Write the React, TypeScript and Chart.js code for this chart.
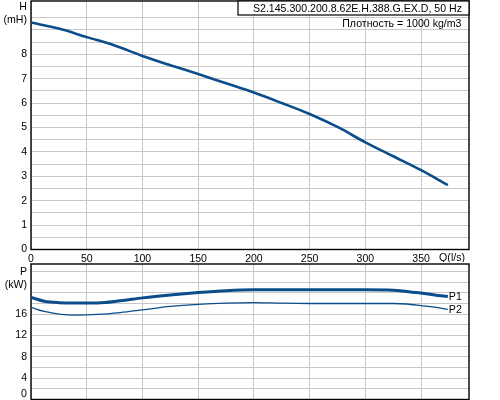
import React, { useEffect, useRef } from "react";
import { Chart, registerables } from "chart.js";

Chart.register(...registerables);

// ---- data ----
const flowQ = [0, 25, 50, 75, 100, 125, 150, 175, 200, 225, 250, 275, 300, 325, 350, 374];
const headH = [9.3, 9.05, 8.7, 8.36, 7.93, 7.55, 7.19, 6.81, 6.43, 6.0, 5.55, 5.02, 4.39, 3.82, 3.25, 2.64];

const powerQ = [0, 12, 25, 40, 60, 80, 100, 125, 150, 175, 200, 225, 250, 275, 300, 325, 337, 350, 362, 374];
const powerP1 = [19.15, 18.4, 18.15, 18.1, 18.1, 18.5, 19.05, 19.6, 20.05, 20.4, 20.55, 20.55, 20.55, 20.55, 20.55, 20.5, 20.25, 19.95, 19.6, 19.3];
const powerP2 = [17.26, 16.5, 16.0, 15.82, 15.95, 16.3, 16.8, 17.45, 17.85, 18.08, 18.15, 18.05, 18.0, 18.0, 18.0, 18.0, 17.9, 17.6, 17.3, 16.9];

const xTickValues = [0, 50, 100, 150, 200, 250, 300, 350];
const headGridValues = [0, 0.5, 1, 1.5, 2, 2.5, 3, 3.5, 4, 4.5, 5, 5.5, 6, 6.5, 7, 7.5, 8, 8.5, 9, 9.5];
const headLabelValues = [0, 1, 2, 3, 4, 5, 6, 7, 8];
const powerGridValues = [0, 2, 4, 6, 8, 10, 12, 14, 16, 18, 20, 22, 24];
const powerLabelValues = [4, 8, 12, 16];
const powerZeroLabel = "0";

const seriesNames = ["P1", "P2"];
const titleText = "S2.145.300.200.8.62E.H.388.G.EX.D, 50 Hz";
const densityText = "Плотность = 1000 kg/m3";
const headAxisTitle = ["H", "(mH)"];
const powerAxisTitle = ["P", "(kW)"];
const flowAxisTitle = "Q(l/s)";

// ---- styles ----
const FONT = "'Liberation Sans', Arial, sans-serif";
const LINE = "#0b4d8b";
const GRID = "#c8c8c8";
const X_MAX = 393;

const framePlugin = {
  id: "frame",
  beforeDatasetsDraw(chart: any) {
    const { ctx, chartArea: a } = chart;
    ctx.save();
    ctx.strokeStyle = "#000";
    ctx.lineWidth = 1.4;
    ctx.strokeRect(a.left, a.top, a.right - a.left, a.bottom - a.top);
    ctx.restore();
  },
};

function zeroPad(s: any) {
  s.paddingTop = 0;
  s.paddingBottom = 0;
  s.paddingLeft = 0;
  s.paddingRight = 0;
}

function makeXScale(showLabels: boolean) {
  return {
    type: "linear",
    min: 0,
    max: X_MAX,
    afterBuildTicks: (s: any) => {
      s.ticks = xTickValues.map((v) => ({ value: v }));
    },
    afterFit: (s: any) => {
      s.height = showLabels ? 12.5 : 0.5;
      zeroPad(s);
    },
    border: { display: false },
    grid: { color: GRID, lineWidth: 1, drawTicks: false },
    ticks: {
      display: showLabels,
      autoSkip: false,
      maxRotation: 0,
      padding: 3,
      color: "#000",
      font: { family: FONT, size: 10.5 },
    },
  };
}

function HeadChart() {
  const ref = useRef<HTMLCanvasElement | null>(null);
  useEffect(() => {
    if (!ref.current) return;
    const textPlugin = {
      id: "headText",
      afterDraw(chart: any) {
        const { ctx, chartArea: a } = chart;
        ctx.save();
        ctx.fillStyle = "#000";
        ctx.font = `10.6px ${FONT}`;
        ctx.textBaseline = "middle";
        ctx.textAlign = "right";
        ctx.fillText(headAxisTitle[0], a.left - 4, a.top + 5.7);
        ctx.fillText(headAxisTitle[1], a.left - 4, a.top + 19.5);
        ctx.fillText(flowAxisTitle, a.right - 4, a.bottom + 8.5);
        const boxW = 231;
        ctx.fillStyle = "#fff";
        ctx.fillRect(a.right - boxW, a.top, boxW, 14);
        ctx.strokeStyle = "#000";
        ctx.lineWidth = 1.2;
        ctx.strokeRect(a.right - boxW, a.top, boxW, 14);
        ctx.fillStyle = "#000";
        ctx.fillText(titleText, a.right - 7, a.top + 8);
        ctx.fillText(densityText, a.right - 7.5, a.top + 23);
        ctx.restore();
      },
    };
    const chart = new Chart(ref.current, {
      type: "line",
      data: {
        datasets: [
          {
            label: "H",
            data: flowQ.map((q, i) => ({ x: q, y: headH[i] })),
            borderColor: LINE,
            borderWidth: 2.6,
            pointRadius: 0,
            cubicInterpolationMode: "monotone",
            fill: false,
          },
        ],
      },
      options: {
        responsive: false,
        animation: false,
        events: [],
        layout: { padding: { top: 1, right: 31, left: 0, bottom: 0 } },
        plugins: { legend: { display: false }, tooltip: { enabled: false } },
        scales: {
          x: makeXScale(true),
          y: {
            type: "linear",
            min: 0,
            max: 10.18,
            afterBuildTicks: (s: any) => {
              s.ticks = headGridValues.map((v) => ({ value: v }));
            },
            afterFit: (s: any) => {
              s.width = 31;
              zeroPad(s);
            },
            border: { display: false },
            grid: { color: GRID, lineWidth: 1, drawTicks: false },
            ticks: {
              autoSkip: false,
              padding: 4,
              color: "#000",
              font: { family: FONT, size: 10.5 },
              callback: (v: any) => (headLabelValues.includes(v) ? String(v) : ""),
            },
          },
        },
      } as any,
      plugins: [framePlugin, textPlugin],
    });
    return () => chart.destroy();
  }, []);
  return (
    <canvas
      ref={ref}
      width={500}
      height={262}
      style={{ position: "absolute", left: 0, top: 0, width: 500, height: 262 }}
    />
  );
}

function PowerChart() {
  const ref = useRef<HTMLCanvasElement | null>(null);
  useEffect(() => {
    if (!ref.current) return;
    const textPlugin = {
      id: "powerText",
      afterDraw(chart: any) {
        const { ctx, chartArea: a } = chart;
        ctx.save();
        ctx.fillStyle = "#000";
        ctx.font = `10.6px ${FONT}`;
        ctx.textBaseline = "middle";
        ctx.textAlign = "right";
        ctx.fillText(powerAxisTitle[0], a.left - 4, a.top + 7.7);
        ctx.fillText(powerAxisTitle[1], a.left - 4, a.top + 21);
        ctx.fillText(powerZeroLabel, a.left - 4, a.bottom - 5.5);
        ctx.textAlign = "left";
        chart.data.datasets.forEach((ds: any, i: number) => {
          const meta = chart.getDatasetMeta(i);
          const last = meta.data[meta.data.length - 1];
          ctx.fillText(ds.label, last.x + 1, last.y + 0.5);
        });
        ctx.restore();
      },
    };
    const chart = new Chart(ref.current, {
      type: "line",
      data: {
        datasets: [
          {
            label: seriesNames[0],
            data: powerQ.map((q, i) => ({ x: q, y: powerP1[i] })),
            borderColor: LINE,
            borderWidth: 3,
            pointRadius: 0,
            cubicInterpolationMode: "monotone",
            fill: false,
          },
          {
            label: seriesNames[1],
            data: powerQ.map((q, i) => ({ x: q, y: powerP2[i] })),
            borderColor: LINE,
            borderWidth: 1.3,
            pointRadius: 0,
            cubicInterpolationMode: "monotone",
            fill: false,
          },
        ],
      },
      options: {
        responsive: false,
        animation: false,
        events: [],
        layout: { padding: { top: 2, right: 31, left: 0, bottom: 0 } },
        plugins: { legend: { display: false }, tooltip: { enabled: false } },
        scales: {
          x: makeXScale(false),
          y: {
            type: "linear",
            min: 0,
            max: 25.4,
            afterBuildTicks: (s: any) => {
              s.ticks = powerGridValues.map((v) => ({ value: v }));
            },
            afterFit: (s: any) => {
              s.width = 31;
              zeroPad(s);
            },
            border: { display: false },
            grid: { color: GRID, lineWidth: 1, drawTicks: false },
            ticks: {
              autoSkip: false,
              padding: 4,
              color: "#000",
              font: { family: FONT, size: 10.5 },
              callback: (v: any) => (powerLabelValues.includes(v) ? String(v) : ""),
            },
          },
        },
      } as any,
      plugins: [framePlugin, textPlugin],
    });
    return () => chart.destroy();
  }, []);
  return (
    <canvas
      ref={ref}
      width={500}
      height={138}
      style={{ position: "absolute", left: 0, top: 262, width: 500, height: 138 }}
    />
  );
}

export default function App() {
  return (
    <div
      style={{
        position: "fixed",
        left: 0,
        top: 0,
        width: 500,
        height: 400,
        background: "#fff",
        overflow: "hidden",
      }}
    >
      <HeadChart />
      <PowerChart />
    </div>
  );
}
